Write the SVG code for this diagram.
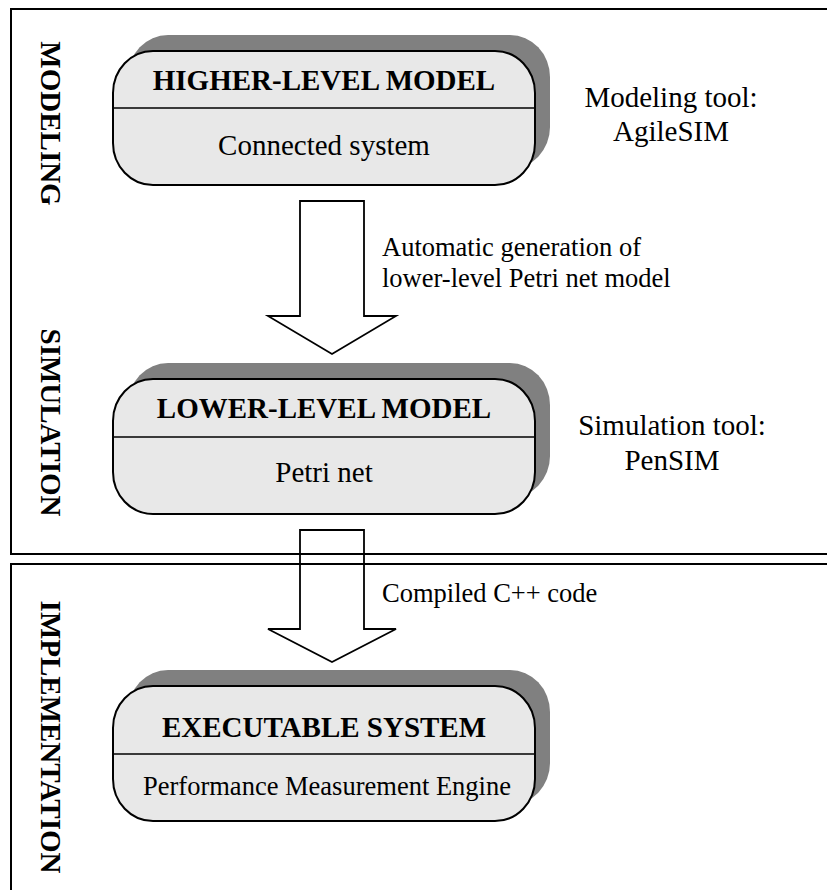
<svg xmlns="http://www.w3.org/2000/svg" width="827" height="890" viewBox="0 0 827 890">
<style>
.frame{fill:none;stroke:#000;stroke-width:2}
.shadow{fill:#808080;stroke:none}
.box{fill:#e8e8e8;stroke:#000;stroke-width:2}
.div{stroke:#000;stroke-width:1.5}
.arrow{fill:none;stroke:#000;stroke-width:1.8;stroke-linejoin:miter}
text{font-family:"Liberation Serif","Times New Roman",serif;fill:#000}
.title{font-size:29px;font-weight:bold;text-anchor:middle}
.sub{font-size:29px;text-anchor:middle}
.side{font-size:29px;text-anchor:middle}
.lbl{font-size:26.5px}
.vert{font-size:29px;font-weight:bold;text-anchor:middle}
</style>
<rect width="827" height="890" fill="#fff"/>
<g id="frames">
<path class="frame" d="M830 9H11V554H830"/>
<path class="frame" d="M830 564H11V895"/>
<text class="vert" transform="translate(41,123.5) rotate(90)">MODELING</text>
<text class="vert" transform="translate(41,422.5) rotate(90)">SIMULATION</text>
<text class="vert" transform="translate(41,737) rotate(90)">IMPLEMENTATION</text>
</g>
<g id="connectors">
<path class="arrow" d="M300 201H364V316H396L332 354L268 316H300Z"/>
<path class="arrow" d="M300 530H364V629H396L332 662L268 629H300Z"/>
<text class="lbl" x="382" y="256">Automatic generation of</text>
<text class="lbl" x="382" y="287">lower-level Petri net model</text>
<text class="lbl" x="382" y="602">Compiled C++ code</text>
</g>
<g id="node-higher">
<rect class="shadow" x="128" y="35" width="422" height="134" rx="40" ry="42"/>
<rect class="box" x="113" y="51" width="422" height="134" rx="40" ry="42"/>
<line class="div" x1="113" y1="108" x2="535" y2="108"/>
<text class="title" x="324" y="90">HIGHER-LEVEL MODEL</text>
<text class="sub" x="324" y="155">Connected system</text>
</g>
<g id="tool-modeling">
<text class="side" x="671" y="107">Modeling tool:</text>
<text class="side" x="671" y="141">AgileSIM</text>
</g>
<g id="node-lower">
<rect class="shadow" x="128" y="363" width="422" height="135" rx="40" ry="42"/>
<rect class="box" x="113" y="379" width="422" height="135" rx="40" ry="42"/>
<line class="div" x1="113" y1="437" x2="535" y2="437"/>
<text class="title" x="324" y="418">LOWER-LEVEL MODEL</text>
<text class="sub" x="324" y="482">Petri net</text>
</g>
<g id="tool-simulation">
<text class="side" x="672" y="435">Simulation tool:</text>
<text class="side" x="672" y="470">PenSIM</text>
</g>
<g id="node-exec">
<rect class="shadow" x="128" y="670" width="422" height="135" rx="40" ry="42"/>
<rect class="box" x="113" y="686" width="422" height="135" rx="40" ry="42"/>
<line class="div" x1="113" y1="754" x2="535" y2="754"/>
<text class="title" x="324" y="737">EXECUTABLE SYSTEM</text>
<text class="sub" x="327" y="795" style="font-size:26.5px">Performance Measurement Engine</text>
</g>
</svg>
